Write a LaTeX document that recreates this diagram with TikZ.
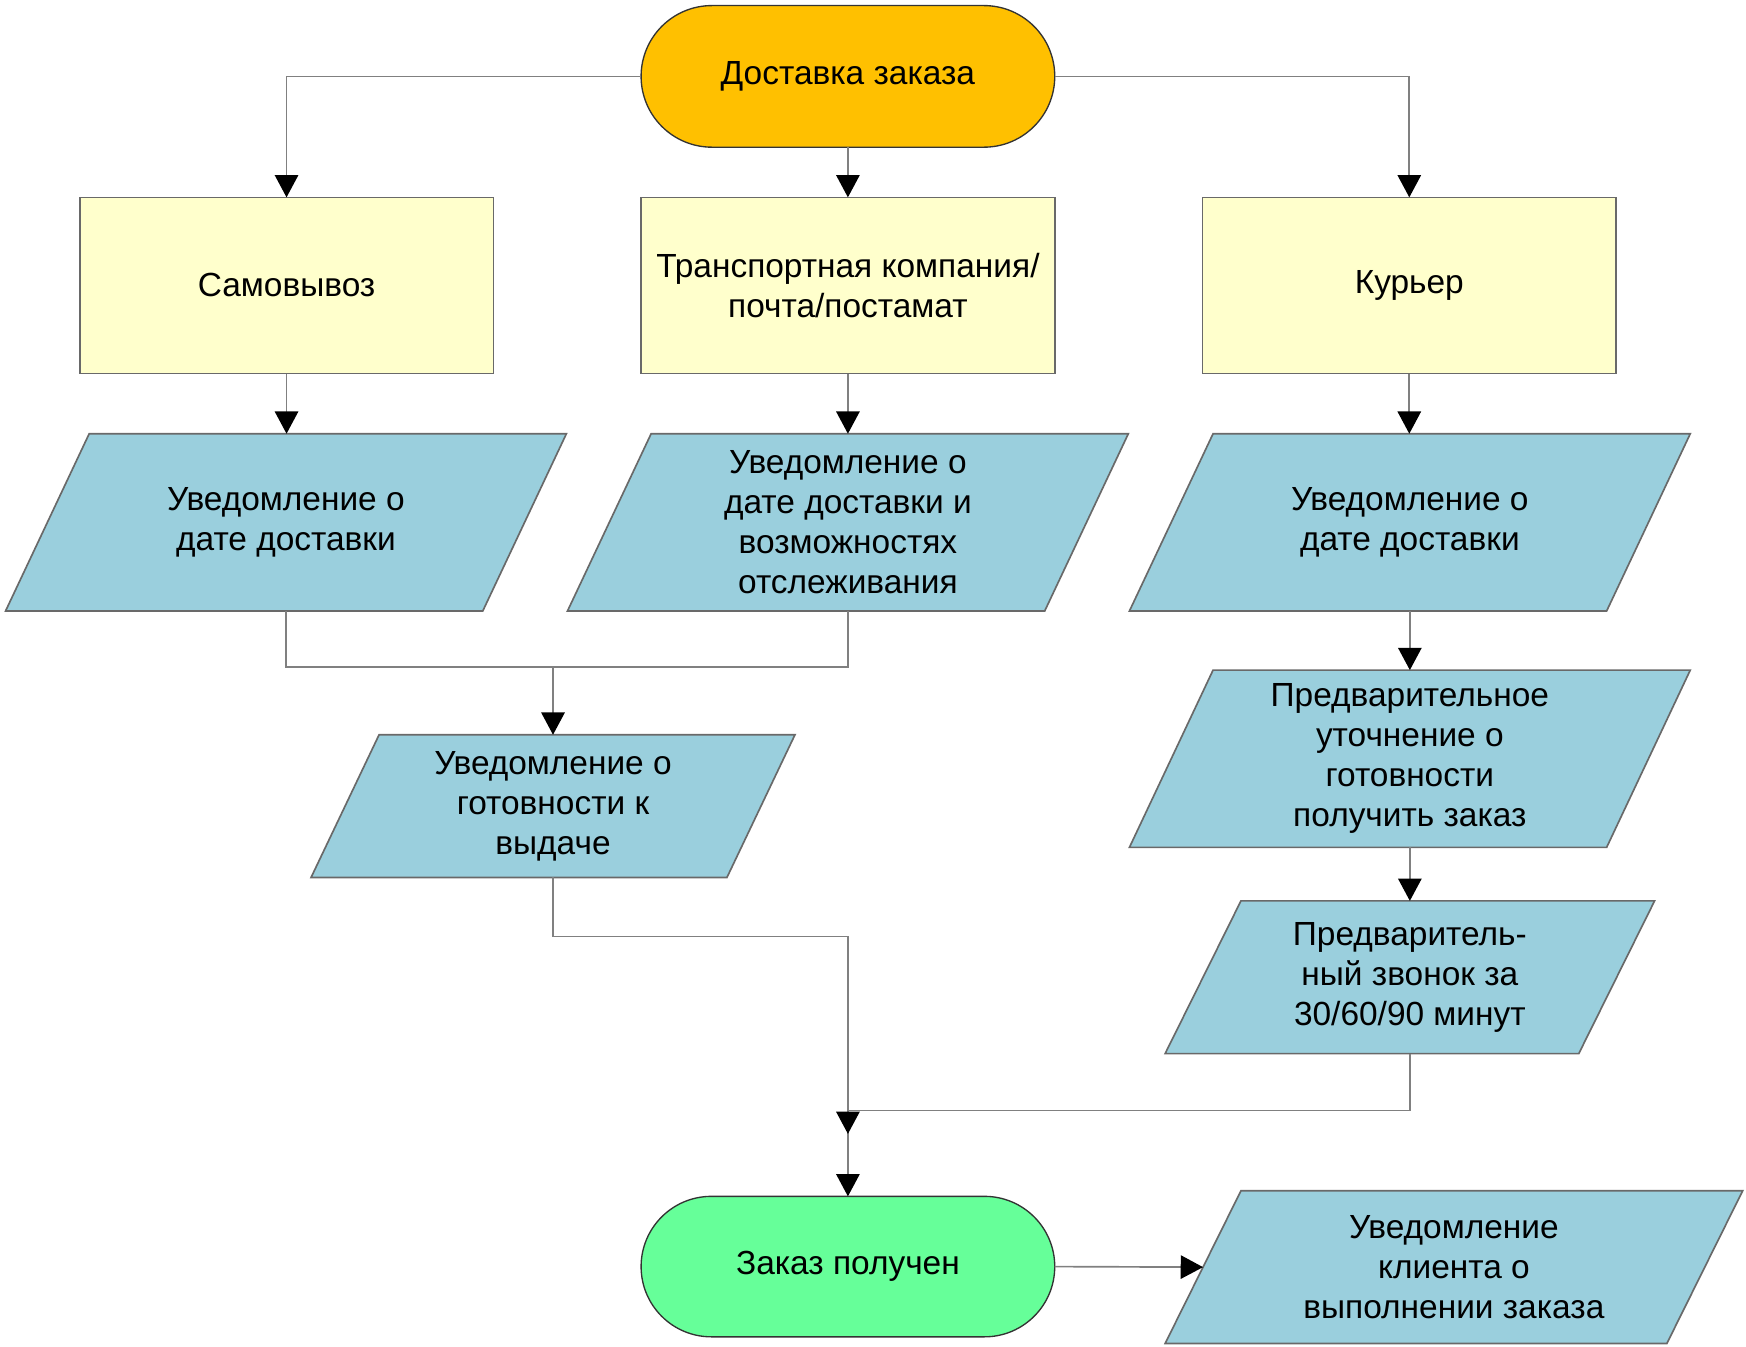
\documentclass[tikz,border=0pt]{standalone}
\usepackage{fontspec}
\setmainfont{Liberation Sans}
\usetikzlibrary{arrows.meta,shapes.misc,calc,backgrounds}
\definecolor{torange}{HTML}{FFC000}
\definecolor{rectfill}{HTML}{FFFFCC}
\definecolor{parafill}{RGB}{154,207,221}
\definecolor{tgreen}{RGB}{102,255,153}
\definecolor{linegray}{RGB}{128,128,128}
\definecolor{bordergray}{RGB}{105,105,105}
\newcommand{\mypara}[2]{\path[fill=parafill, draw=bordergray, line width=1.5pt] (#1.south west) -- ($(#1.south east)+(-#2,0)$) -- (#1.north east) -- ($(#1.north west)+(#2,0)$) -- cycle;}
\begin{document}
\begin{tikzpicture}[x=1pt,y=-1pt,
  every node/.style={font=\fontsize{30}{36}\selectfont, align=center, inner sep=0pt, outer sep=0pt},
  term/.style={rounded rectangle, draw=black!80, line width=1.2pt, minimum width=371pt, minimum height=127pt},
  procbox/.style={draw=bordergray, fill=rectfill, line width=1.5pt, minimum width=371pt, minimum height=158pt},
  iobox/.style={minimum height=159pt, minimum width=503pt},
  conn/.style={draw=linegray, line width=1.5pt},
  arr/.style={conn, -{Triangle[length=20pt,width=21pt,color=black]}}
]
\path[use as bounding box] (0,0) rectangle (1566,1208);

% terminals
\node[term, fill=torange] (T1) at (760.5,68.5) {Доставка заказа};
\node[term, fill=tgreen, minimum height=126pt] (T2) at (760.5,1136) {Заказ получен};

% process boxes
\node[procbox] (R1) at (257,256) {Самовывоз};
\node[procbox] (R2) at (760.5,256) {Транспортная компания/\\почта/постамат};
\node[procbox] (R3) at (1264,256) {Курьер};

% input/output boxes
\node[iobox] (P1) at (256.5,468.5) {Уведомление о\\дате доставки};
\node[iobox] (P2) at (760.5,468.5) {Уведомление о\\дате доставки и\\возможностях\\отслеживания};
\node[iobox] (P3) at (1264.5,468.5) {Уведомление о\\дате доставки};
\node[iobox, minimum width=434pt, minimum height=128pt] (P4) at (496,723) {Уведомление о\\готовности к\\выдаче};
\node[iobox] (P5) at (1264.5,680.5) {Предварительное\\уточнение о\\готовности\\получить заказ};
\node[iobox, minimum width=439pt, minimum height=137pt] (P6) at (1264.5,876.5) {Предваритель-\\ный звонок за\\30/60/90 минут};
\node[iobox, minimum width=518pt, minimum height=137pt] (P7) at (1304,1136.5) {Уведомление\\клиента о\\выполнении заказа};

\begin{scope}[on background layer]
\fill[white] (0,0) rectangle (1566,1208);
\mypara{P1}{75}
\mypara{P2}{75}
\mypara{P3}{75}
\mypara{P4}{61}
\mypara{P5}{75}
\mypara{P6}{68}
\mypara{P7}{68}
\end{scope}

\coordinate (m1) at (496,598);
\coordinate (jt) at (760.5,1017);

% connectors
\draw[arr] (T1.west) -| (R1.north);
\draw[arr] (T1.east) -| (R3.north);
\draw[arr] (T1.south) -- (R2.north);
\draw[arr] (R1.south) -- (R1.south |- P1.north);
\draw[arr] (R2.south) -- (R2.south |- P2.north);
\draw[arr] (R3.south) -- (R3.south |- P3.north);
\draw[conn] (P1.south) -- ++(0,50) -| (P2.south);
\draw[arr] (m1) -- (P4.north);
\draw[arr] (P3.south) -- (P5.north);
\draw[arr] (P5.south) -- (P6.north);
\draw[arr] (P4.south) -- ++(0,53) -| (T2.north);
\draw[arr] (P6.south) -- ++(0,51) -| (jt);
\draw[arr] (T2.east) -- ($(P7.west)+(34,0)$);
\end{tikzpicture}
\end{document}
